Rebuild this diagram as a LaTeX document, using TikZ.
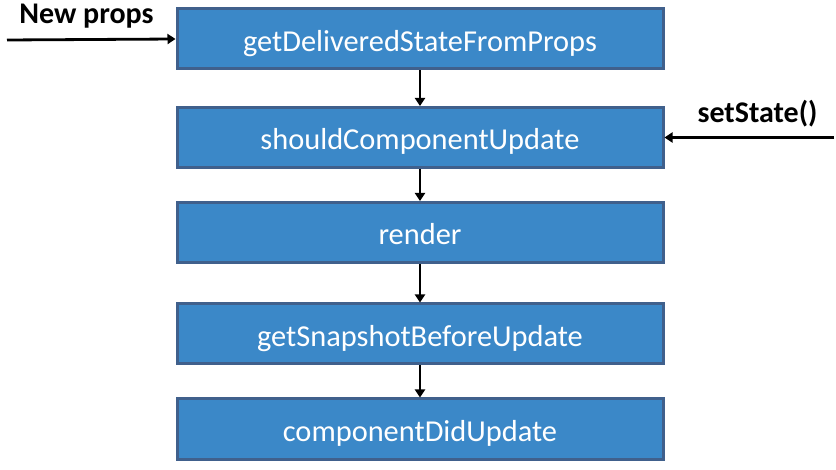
\documentclass[tikz,border=0pt]{standalone}
\usepackage{fontspec}
\setmainfont{Carlito}
\usetikzlibrary{arrows.meta}
\definecolor{boxfill}{HTML}{3B88C8}
\definecolor{boxline}{HTML}{40608C}
\tikzset{
  stage/.style={draw=boxline, line width=3pt, fill=boxfill, text=white, minimum width=486pt, minimum height=60pt, inner sep=0pt, text height=25pt, text depth=0pt, font=\fontsize{30.4}{33}\selectfont},
  flow/.style={line width=2.8pt, -{Triangle[length=8pt,width=10pt]}},
  lbl/.style={font=\fontsize{30}{33}\selectfont\bfseries, inner sep=0pt, anchor=base}
}
\begin{document}
\begin{tikzpicture}[x=1pt,y=-1pt]
\useasboundingbox (0,0) rectangle (836,470);
\node[stage] (b1) at (420,39) {getDeliveredStateFromProps};
\node[stage] (b2) at (420,137.5) {shouldComponentUpdate};
\node[stage] (b3) at (420,232.5) {render};
\node[stage] (b4) at (420,334) {getSnapshotBeforeUpdate};
\node[stage] (b5) at (420,429) {componentDidUpdate};
\draw[flow] (b1.south) -- (b2.north);
\draw[flow] (b2.south) -- (b3.north);
\draw[flow] (b3.south) -- (b4.north);
\draw[flow] (b4.south) -- (b5.north);
\coordinate (np) at (7,40);
\coordinate (ss) at (834,137.5);
\draw[flow] (np) -- (b1.west);
\draw[flow] (ss) -- (b2.east);
\node[lbl] (nplbl) at (86.5,24) {New props};
\node[lbl] (sslbl) at (757.5,123) {setState()};
\end{tikzpicture}
\end{document}
